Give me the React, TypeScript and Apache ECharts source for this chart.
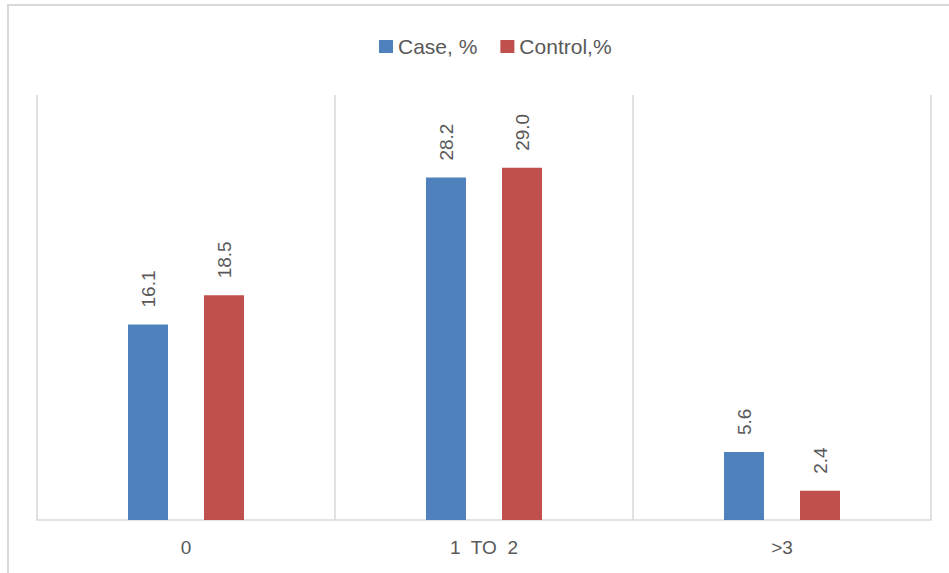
import React, { useEffect, useRef } from "react";
import * as echarts from "echarts";

const categories = ["0", "1  TO  2", ">3"];
const caseValues = [16.1, 28.2, 5.6];
const controlValues = [18.5, 29.0, 2.4];
const seriesNames = ["Case, %", "Control,%"];

const FONT = "Liberation Sans, Arial, sans-serif";

export default function App() {
  const ref = useRef<HTMLDivElement>(null);
  useEffect(() => {
    document.body.style.margin = "0";
    const chart = echarts.init(ref.current!, null, { renderer: "svg" });
    const label = {
      show: true,
      position: "top" as const,
      rotate: 90,
      align: "left" as const,
      verticalAlign: "middle" as const,
      distance: 17,
      color: "#595959",
      fontSize: 19,
      fontFamily: FONT,
      formatter: (p: any) => Number(p.value).toFixed(1),
    };
    chart.setOption({
      animation: false,
      backgroundColor: "#ffffff",
      graphic: [
        {
          type: "rect",
          shape: { x: 8, y: 5, width: 960, height: 600 },
          style: { fill: "none", stroke: "#d9d9d9", lineWidth: 2 },
          silent: true,
        },
      ],
      legend: {
        top: 31,
        left: 374,
        itemWidth: 14,
        itemHeight: 13,
        itemGap: 23,
        icon: "rect",
        textStyle: { color: "#595959", fontSize: 21, fontFamily: FONT },
        data: seriesNames,
      },
      grid: { left: 37, right: 18, top: 95, bottom: 53 },
      xAxis: {
        type: "category",
        data: categories,
        axisLine: { show: true, lineStyle: { color: "#d9d9d9", width: 1.5 } },
        axisTick: { show: false },
        splitLine: { show: true, lineStyle: { color: "#d9d9d9", width: 1.5 } },
        axisLabel: { color: "#595959", fontSize: 19, fontFamily: FONT, margin: 18 },
      },
      yAxis: { type: "value", min: 0, max: 35, show: false, splitLine: { show: false } },
      series: [
        {
          name: seriesNames[0],
          type: "bar",
          data: caseValues,
          barWidth: 40,
          barGap: "90%",
          itemStyle: { color: "#4f81bd" },
          label,
        },
        {
          name: seriesNames[1],
          type: "bar",
          data: controlValues,
          barWidth: 40,
          barGap: "90%",
          itemStyle: { color: "#c0504d" },
          label,
        },
      ],
    });
    return () => chart.dispose();
  }, []);
  return <div ref={ref} style={{ width: 949, height: 573 }} />;
}
